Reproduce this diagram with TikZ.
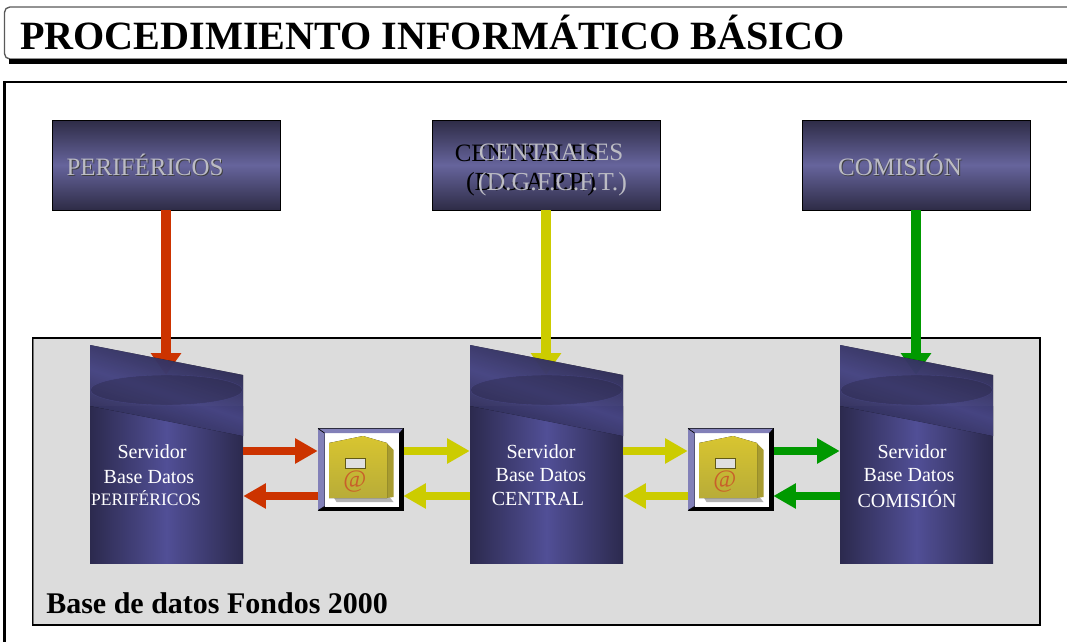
\documentclass[tikz,border=0pt]{standalone}
\usepackage{fontspec}
\setmainfont{Liberation Serif}
\usetikzlibrary{arrows.meta,positioning}
\definecolor{darkblue}{HTML}{2C2A4E}
\definecolor{midblue}{HTML}{514F96}
\definecolor{boxmid}{HTML}{66649C}
\definecolor{boxdark}{HTML}{2E2C46}
\definecolor{panelgray}{HTML}{DCDCDC}
\definecolor{redarrow}{HTML}{CC3300}
\definecolor{yellowarrow}{HTML}{CCCC00}
\definecolor{greenarrow}{HTML}{009900}
\definecolor{bevel}{HTML}{8280B8}
\definecolor{mailyellow}{HTML}{D8C530}
\definecolor{maillow}{HTML}{B8AC38}
\definecolor{mailside}{HTML}{A89C30}
\definecolor{mailat}{HTML}{C8602A}
\definecolor{lighttext}{HTML}{BCBCC4}
\tikzset{
  topbox/.style={draw=black,line width=0.6pt,minimum width=171pt,minimum height=67.5pt,inner sep=0pt,
    top color=boxdark,bottom color=boxdark,middle color=boxmid},
  serverbody/.style={minimum width=114.75pt,minimum height=118pt,inner sep=0pt,
    left color=darkblue,right color=darkblue,middle color=midblue},
  servertext/.style={text=white,font=\fontsize{15}{15}\selectfont,inner sep=0pt},
  smalltext/.style={text=white,font=\fontsize{13.1}{13.1}\selectfont,inner sep=0pt},
  boxtext/.style={text=lighttext,font=\fontsize{18.75}{18.75}\selectfont,inner sep=0pt},
  boxshadow/.style={text=black!75,font=\fontsize{18.75}{18.75}\selectfont,inner sep=0pt},
  hflow/.style={line width=5.6pt,-{Triangle[length=17pt,width=18pt]},shorten >=0pt},
  vflow/.style={line width=8pt,-{Triangle[length=16.5pt,width=22pt]}},
  mailnode/.style={minimum width=63.75pt,minimum height=62.5pt,inner sep=0pt},
  mailicon/.pic={
    \fill[black] (-43,-42) rectangle (43,41);
    \fill[white] (-36,-37) rectangle (38.5,36.5);
    \fill[bevel] (-42.5,-41.5) -- (42.5,-41.5) -- (38.5,-37) -- (-36,-37) -- (-36,36.5) -- (-42.5,40.5) -- cycle;
    \draw[black,line width=0.5pt] (-42.5,-41.5) -- (-36,-37) (-42.5,40.5) -- (-36,36.5);
    \fill[gray!60] (-27,27) -- (29,27) -- (33,32) -- (-24,32) -- cycle;
    \fill[mailside] (26,-27) -- (33,-20) -- (33,27) -- (26,28) -- cycle;
    \fill[top color=mailyellow,bottom color=maillow] (-31.5,-27) -- (2.5,-34) -- (26.5,-27) -- (26.5,28) -- (-31.5,28) -- cycle;
    \fill[white!75!gray,draw=black!55!mailyellow,line width=0.6pt] (-15.5,-12) rectangle (4.5,-2);
    \node[text=mailat,font=\fontsize{18.75}{18.75}\selectfont,inner sep=0pt] at (-5.5,12) {@};
  }
}
\begin{document}
\begin{tikzpicture}[x=0.75pt,y=-0.75pt]
\useasboundingbox (0,0) rectangle (1067,642);
% title
\draw[draw=black!65,line width=1pt,fill=white,rounded corners=4pt] (1075,7) -- (4.5,7) -- (4.5,59) -- (1075,59);
\fill[black] (9,59) rectangle (1067,64);
\node[anchor=base west,inner sep=0pt,font=\fontsize{30.1}{30.1}\selectfont\bfseries] (title) at (20,50) {PROCEDIMIENTO INFORMÁTICO BÁSICO};
% frame
\draw[black,line width=1.7pt] (1067,82) -- (4.5,82) -- (4.5,642);
% panel
\node[draw=black,line width=0.8pt,fill=panelgray,minimum width=755.25pt,minimum height=215.25pt,inner sep=0pt] (panel) at (536.5,481.5) {};
\draw[black!55,line width=1.3pt] (33.5,339) -- (33.5,624);
\node[anchor=base west,inner sep=0pt,font=\fontsize{22.5}{22.5}\selectfont\bfseries] (paneltitle) at (46,613) {Base de datos Fondos 2000};
% top boxes
\node[topbox] (boxA) at (166,165) {};
\node[topbox] (boxB) at (546,165) {};
\node[topbox] (boxC) at (916,165) {};
\node[boxshadow] (boxAs) at (146,166) {PERIFÉRICOS};
\node[boxtext] (boxAt) at (145,165) {PERIFÉRICOS};
\node[boxshadow] (boxCs) at (901,166) {COMISIÓN};
\node[boxtext] (boxCt) at (900,165) {COMISIÓN};
\node[text=black,font=\fontsize{18.75}{18.75}\selectfont,inner sep=0pt] (boxB1) at (527,153) {CENTRALES};
\node[text=black,font=\fontsize{19.6}{19.6}\selectfont,inner sep=0pt] (boxB2) at (531,184) {(D.G.A.P.P.)};
\node[boxtext] (boxB3) at (551,152) {CENTRALES};
\node[text=lighttext,font=\fontsize{19.4}{19.4}\selectfont,inner sep=0pt] (boxB4) at (552.5,184) {(D.G.F.C.F.T.)};
% servers (bodies)
\node[serverbody] (srvA) at (166.5,485) {};
\node[serverbody] (srvB) at (546.5,485) {};
\node[serverbody] (srvC) at (916.5,485) {};
% icons
\node[mailnode] (mailA) at (360.5,470) {};
\node[mailnode] (mailB) at (730.5,470) {};
\coordinate (rowT) at (0,451);
\coordinate (rowB) at (0,496);
\coordinate (tipA) at (166,375);
\coordinate (tipB) at (546,375);
\coordinate (tipC) at (916,375);
% flows
\draw[vflow,redarrow] (boxA.south) -- (tipA);
\draw[vflow,yellowarrow] (boxB.south) -- (tipB);
\draw[vflow,greenarrow] (boxC.south) -- (tipC);
\draw[hflow,redarrow] (srvA.east |- rowT) -- (mailA.west |- rowT);
\draw[hflow,redarrow] (mailA.west |- rowB) -- (srvA.east |- rowB);
\draw[hflow,yellowarrow] (mailA.east |- rowT) -- (srvB.west |- rowT);
\draw[hflow,yellowarrow] (srvB.west |- rowB) -- (mailA.east |- rowB);
\draw[hflow,yellowarrow] (srvB.east |- rowT) -- (mailB.west |- rowT);
\draw[hflow,yellowarrow] (mailB.west |- rowB) -- (srvB.east |- rowB);
\draw[hflow,greenarrow] (mailB.east |- rowT) -- (srvC.west |- rowT);
\draw[hflow,greenarrow] (srvC.west |- rowB) -- (mailB.east |- rowB);
\pic at (mailA.center) {mailicon};
\pic at (mailB.center) {mailicon};
% server tops
\foreach \cx in {166.5,546.5,916.5}{
  \begin{scope}
    \clip (\cx-76.5,345) -- (\cx+76.5,375) -- (\cx+76.5,436) -- (\cx-76.5,406) -- cycle;
    \begin{scope}[transform canvas={rotate around={-18:(\cx,394)}}]
      \fill[opacity=0.85,top color=darkblue,bottom color=darkblue,middle color=midblue] (\cx-140,334) rectangle (\cx+140,454);
    \end{scope}
  \end{scope}
  \draw[fill=darkblue,draw=midblue,line width=0.3pt,opacity=0.45] (\cx,390) ellipse [x radius=76,y radius=15];
}
% server labels
\node[servertext] (a1) at (152,452) {Servidor};
\node[servertext] (a2) at (149,477) {Base Datos};
\node[smalltext] (a3) at (146,498) {PERIFÉRICOS};
\node[servertext] (b1) at (541,452) {Servidor};
\node[servertext] (b2) at (541,475) {Base Datos};
\node[servertext] (b3) at (538,499) {CENTRAL};
\node[servertext] (c1) at (912,452) {Servidor};
\node[servertext] (c2) at (909,475) {Base Datos};
\node[servertext] (c3) at (907,499) {COMISIÓN};
\end{tikzpicture}
\end{document}
